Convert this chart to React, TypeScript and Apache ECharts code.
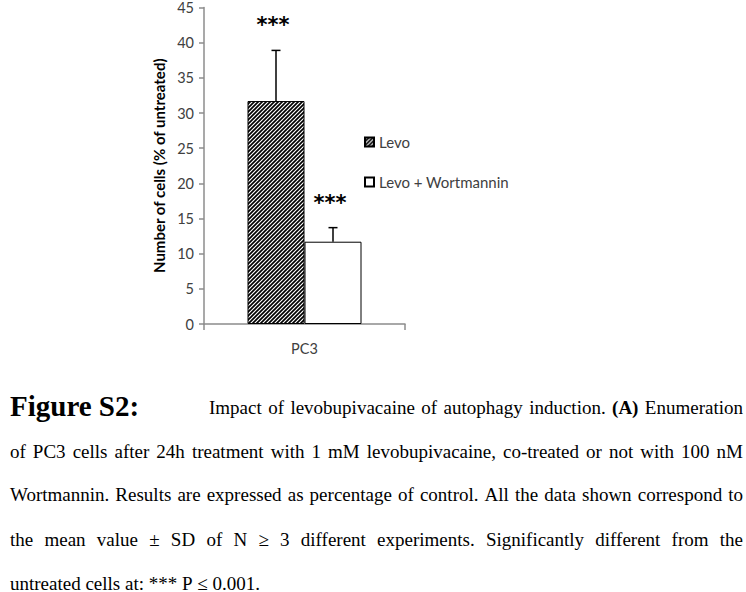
import React, { useEffect, useRef } from 'react';
import * as echarts from 'echarts';

// ---- data ----
const categories = ['PC3'];
const seriesNames = ['Levo', 'Levo + Wortmannin'];
const levoMean = [31.7];
const levoSD = [7.2];
const wortMean = [11.7];
const wortSD = [2.0];
const significance = ['***', '***'];
const yAxisName = 'Number of cells (% of untreated)';

const captionTitle = 'Figure S2:';
const captionLines = [
  'Impact of levobupivacaine of autophagy induction. (A) Enumeration',
  'of PC3 cells after 24h treatment with 1 mM levobupivacaine, co-treated or not with 100 nM',
  'Wortmannin. Results are expressed as percentage of control. All the data shown correspond to',
  'the mean value ± SD of N ≥ 3 different experiments. Significantly different from the',
  'untreated cells at: *** P ≤ 0.001.',
];
const boldWords = ['(A)'];

const BAR_W = 57;
const SERIF = "'Liberation Serif', 'Times New Roman', serif";

function makeHatch(): string {
  const c = document.createElement('canvas');
  const s = 4;
  c.width = s;
  c.height = s;
  const g = c.getContext('2d')!;
  g.fillStyle = '#ffffff';
  g.fillRect(0, 0, s, s);
  g.strokeStyle = '#000000';
  g.lineWidth = 1.7;
  g.beginPath();
  g.moveTo(-1, s + 1);
  g.lineTo(s + 1, -1);
  g.moveTo(-1, 1);
  g.lineTo(1, -1);
  g.moveTo(s - 1, s + 1);
  g.lineTo(s + 1, s - 1);
  g.stroke();
  return c.toDataURL();
}

function buildCaption(): any[] {
  const ctx = document.createElement('canvas').getContext('2d')!;
  const fontN = `19px ${SERIF}`;
  const fontB = `bold 19px ${SERIF}`;
  const measure = (t: string, f: string) => {
    ctx.font = f;
    return ctx.measureText(t).width;
  };
  const els: any[] = [];
  els.push({
    type: 'text',
    x: 10,
    y: 406,
    style: { text: captionTitle, font: `bold 29px ${SERIF}`, fill: '#000', verticalAlign: 'middle' },
  });
  const ys = [407, 451, 494, 539, 583];
  const starts = [209, 10, 10, 10, 10];
  const right = 743;
  captionLines.forEach((line, li) => {
    const words = line.split(' ');
    const fonts = words.map((w) => (boldWords.includes(w) ? fontB : fontN));
    const widths = words.map((w, i) => measure(w, fonts[i]));
    const total = widths.reduce((a, b) => a + b, 0);
    const justify = li < captionLines.length - 1;
    const gap = justify ? (right - starts[li] - total) / (words.length - 1) : measure(' ', fontN);
    let x = starts[li];
    words.forEach((w, i) => {
      els.push({
        type: 'text',
        x,
        y: ys[li],
        style: { text: w, font: fonts[i], fill: '#000', verticalAlign: 'middle' },
      });
      x += widths[i] + gap;
    });
  });
  return els;
}

export default function App() {
  const ref = useRef<HTMLDivElement>(null);
  useEffect(() => {
    if (!ref.current) return;
    const chart = echarts.init(ref.current, undefined, { renderer: 'svg' });
    const hatch = makeHatch();
    const errData = [
      [0, levoMean[0], levoSD[0], -1],
      [0, wortMean[0], wortSD[0], 1],
    ];
    const option: any = {
      animation: false,
      backgroundColor: '#ffffff',
      textStyle: { fontFamily: 'Lato' },
      grid: { left: 204, right: 341, top: 5, bottom: 268, containLabel: false },
      legend: {
        orient: 'vertical',
        left: 359,
        top: 128,
        itemWidth: 9,
        itemHeight: 9,
        itemGap: 22,
        icon: 'rect',
        data: seriesNames,
        textStyle: { fontFamily: 'Lato', fontSize: 15, color: '#404040', lineHeight: 18 },
      },
      xAxis: {
        type: 'category',
        data: categories,
        axisLine: { lineStyle: { color: '#8c8c8c', width: 1.5 } },
        axisTick: { show: true, length: 6, lineStyle: { color: '#8c8c8c', width: 1.5 } },
        axisLabel: { fontFamily: 'Lato', fontSize: 14.5, color: '#404040', margin: 17 },
      },
      yAxis: {
        type: 'value',
        min: 0,
        max: 45,
        interval: 5,
        name: yAxisName,
        nameLocation: 'middle',
        nameGap: 38,
        nameTextStyle: { fontFamily: 'Lato', fontSize: 15, fontWeight: 'bold', color: '#000' },
        axisLine: { show: true, lineStyle: { color: '#8c8c8c', width: 1.5 } },
        axisTick: { show: true, length: 5, lineStyle: { color: '#8c8c8c', width: 1.5 } },
        splitLine: { show: false },
        axisLabel: { fontFamily: 'Lato', fontSize: 14.5, color: '#404040', margin: 10 },
      },
      series: [
        {
          name: seriesNames[0],
          type: 'bar',
          barWidth: BAR_W,
          barGap: '0%',
          data: levoMean,
          itemStyle: {
            color: { image: hatch, repeat: 'repeat' },
            borderColor: '#000',
            borderWidth: 1,
          },
        },
        {
          name: seriesNames[1],
          type: 'bar',
          barWidth: BAR_W,
          barGap: '0%',
          data: wortMean,
          itemStyle: { color: '#ffffff', borderColor: '#000', borderWidth: 1 },
        },
        {
          type: 'custom',
          z: 10,
          silent: true,
          data: errData,
          encode: { x: 0, y: 1 },
          renderItem: (params: any, api: any) => {
            const cat = api.value(0);
            const mean = api.value(1);
            const sd = api.value(2);
            const side = api.value(3);
            const base = api.coord([cat, mean]);
            const top = api.coord([cat, mean + sd]);
            const x = base[0] + (side * BAR_W) / 2;
            const ls = { stroke: '#000', lineWidth: 1.5 };
            return {
              type: 'group',
              children: [
                { type: 'line', shape: { x1: x, y1: base[1], x2: x, y2: top[1] }, style: ls },
                { type: 'line', shape: { x1: x - 4.5, y1: top[1], x2: x + 4.5, y2: top[1] }, style: ls },
                {
                  type: 'text',
                  x: x - 3,
                  y: top[1] - 25,
                  style: {
                    text: significance[params.dataIndex],
                    font: "bold 21px 'DejaVu Sans'",
                    fill: '#000',
                    align: 'center',
                    verticalAlign: 'middle',
                  },
                },
              ],
            };
          },
        },
      ],
      graphic: buildCaption(),
    };
    chart.setOption(option);
    return () => chart.dispose();
  }, []);
  return (
    <div
      ref={ref}
      style={{ position: 'absolute', left: 0, top: 0, width: 746, height: 592, background: '#fff' }}
    />
  );
}
